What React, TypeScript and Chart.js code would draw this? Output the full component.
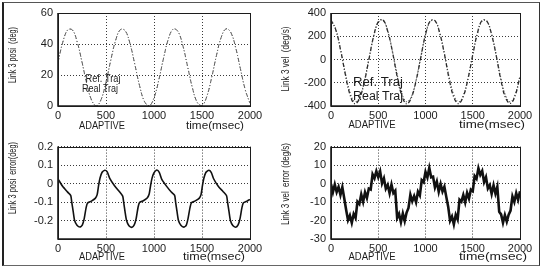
import React, { useEffect, useRef } from 'react';
import { Chart, registerables } from 'chart.js';

Chart.register(...registerables);

// ---------- data ----------
const timeTicks = [0, 500, 1000, 1500, 2000];
const posTicks = [0, 20, 40, 60];
const velTicks = [-400, -200, 0, 200, 400];
const posErrTicks = [-0.3, -0.2, -0.1, 0, 0.1, 0.2];
const velErrTicks = [-30, -20, -10, 0, 10, 20];

// trajectory samples every 50 ms (0..2000)
const trajTimes = Array.from({ length: 41 }, (_, i) => i * 50);

const refPos = [28.2, 41.2, 49.0, 49.0, 41.2, 28.2, 14.2, 3.7, 0.0, 4.4, 15.5, 29.6, 42.3, 49.3, 48.5, 40.1, 26.8, 12.9, 2.9, 0.1, 5.3, 16.9, 31.0, 43.3, 49.6, 48.0, 38.9, 25.3, 11.7, 2.3, 0.3, 6.2, 18.2, 32.4, 44.3, 49.8, 47.4, 37.7, 23.9, 10.5, 1.7];
const realPos = [28.2, 41.2, 49.0, 49.1, 41.4, 28.4, 14.4, 3.8, 0.1, 4.3, 15.4, 29.6, 42.3, 49.3, 48.6, 40.3, 27.0, 13.1, 3.0, 0.2, 5.2, 16.8, 31.0, 43.3, 49.6, 48.1, 39.1, 25.5, 11.8, 2.4, 0.3, 6.1, 18.1, 32.4, 44.3, 49.8, 47.5, 37.9, 24.1, 10.6, 1.8];

const refVel = [342, 260, 91, -111, -280, -362, -330, -195, 1, 192, 318, 339, 246, 71, -130, -293, -364, -321, -177, 21, 209, 326, 334, 232, 51, -149, -305, -365, -310, -159, 41, 224, 332, 329, 216, 31, -168, -316, -365, -299, -140];
const realVel = [340, 257, 88, -121, -299, -380, -339, -203, -4, 196, 324, 340, 244, 68, -146, -312, -382, -329, -185, 18, 214, 332, 335, 229, 48, -166, -325, -379, -318, -166, 40, 229, 337, 329, 213, 27, -187, -335, -377, -307, -146];

// position error (deg), irregular sample times (ms)
const posErrTimes = [
  0, 48, 98, 133, 143, 158, 173, 198, 228, 253, 273, 293, 308, 348, 388, 408, 423, 438, 458, 489,
  514, 539, 589, 639, 674, 684, 699, 714, 739, 769, 794, 814, 834, 849, 889, 929, 949, 964, 979, 999, 1030,
  1055, 1080, 1130, 1180, 1215, 1225, 1240, 1255, 1280, 1310, 1335, 1355, 1375, 1390, 1430, 1470, 1490, 1505, 1520, 1540, 1571,
  1596, 1621, 1671, 1721, 1756, 1766, 1781, 1796, 1821, 1851, 1876, 1896, 1916, 1931, 1971, 2000,
];
const posErrValues = [
  0.025, -0.015, -0.045, -0.065, -0.1, -0.15, -0.2, -0.225, -0.235, -0.225, -0.19, -0.13, -0.105, -0.095, -0.08, -0.06, -0.01, 0.03, 0.06, 0.072,
  0.062, 0.028, -0.012, -0.043, -0.068, -0.1, -0.155, -0.2, -0.228, -0.237, -0.224, -0.19, -0.128, -0.103, -0.093, -0.078, -0.058, -0.012, 0.028, 0.058, 0.073,
  0.06, 0.024, -0.014, -0.046, -0.064, -0.1, -0.152, -0.2, -0.226, -0.236, -0.226, -0.188, -0.13, -0.104, -0.094, -0.08, -0.06, -0.01, 0.03, 0.06, 0.072,
  0.061, 0.026, -0.016, -0.044, -0.066, -0.1, -0.15, -0.2, -0.227, -0.236, -0.224, -0.19, -0.13, -0.104, -0.094, -0.086,
];

// velocity error (deg/s), samples every 20 ms (0..2000)
const velErrTimes = Array.from({ length: 101 }, (_, i) => i * 20);
const velErrValues = [
  -0.2, -4.7, -0.5, -4.6, -1.8, -6.1, -1.9, -7.9, -14.2, -19.8,
  -17.2, -21.2, -16.5, -18.6, -9.8, -11.1, -5.9, -9.9, -4.7, -7.8,
  -2.7, -3.2, 5, 2.9, 6.7, 3.4, 6.6, 0.1, 2.8, -2.8,
  -0.7, -5.2, -0.5, -5.1, -3.8, -18.6, -16.4, -20.9, -16.2, -20.3,
  -15.7, -13.2, -6, -9.6, -6.8, -10.1, -4.4, -6.4, 1.8, 0.7,
  6.3, 3.3, 8.5, 3.4, 3.7, -2.1, 1.1, -4.4, -0.2, -4.3,
  -1.7, -7.2, -12.5, -20.1, -17.8, -22.1, -16.9, -19.4, -8.7, -9.8,
  -6.2, -10.2, -5, -8.1, -3.3, -4.1, 4.1, 2.6, 8.3, 4.7,
  6.8, 0.8, 3.5, -2.6, -0.8, -5.6, -0.9, -5.4, -1.7, -15.3,
  -16.7, -21.2, -17, -20.6, -16.8, -14.6, -6.9, -9.9, -5.2, -8.8,
  -4.2,
];

// ---------- drawing helpers ----------
const FONT = '"Liberation Sans", Arial, Helvetica, sans-serif';
const INK = '#1c1c1c';

const pts = (xs: number[], ys: number[]) => xs.map((x, i) => ({ x, y: ys[i] }));

function drawFitted(ctx: CanvasRenderingContext2D, text: string, cx: number, cy: number, size: number, targetW: number, rotate = false) {
  ctx.save();
  ctx.font = `${size}px ${FONT}`;
  ctx.fillStyle = INK;
  ctx.textAlign = 'center';
  ctx.textBaseline = 'middle';
  const w = ctx.measureText(text).width || 1;
  ctx.translate(cx, cy);
  if (rotate) ctx.rotate(-Math.PI / 2);
  ctx.scale(targetW / w, 1);
  ctx.fillText(text, 0, 0);
  ctx.restore();
}

type Txt = [string, number, number, number, number];
type Panel = {
  x: number; y: number; w: number; h: number;
  area: { l: number; t: number; r: number; b: number };
  yMin: number; yMax: number; yTicks: number[];
  hideY?: number[];
  datasets: any[];
  texts: Txt[];
  yTitle: Txt;
};

const trajStyle = (color: string, dash: number[], width = 1) => ({
  borderColor: color, borderWidth: width, borderDash: dash, pointRadius: 0, tension: 0.4, fill: false,
});

const panels: Panel[] = [
  {
    x: 0, y: 0, w: 276, h: 135, area: { l: 58, t: 13, r: 250, b: 106 },
    yMin: 0, yMax: 60, yTicks: posTicks,
    datasets: [
      { label: 'Ref. Traj', data: pts(trajTimes, refPos), ...trajStyle('#6a6a6a', [1, 2]) },
      { label: 'Real Traj', data: pts(trajTimes, realPos), ...trajStyle('#5a5a5a', [4, 2, 1, 2]) },
    ],
    texts: [['ADAPTIVE', 102, 126, 10, 46], ['time(msec)', 215, 126, 10, 58], ['Ref. Traj', 103, 79, 10, 35], ['Real Traj', 100, 89, 10, 36]],
    yTitle: ['Link 3 posi  (deg)', 13, 55, 10, 56],
  },
  {
    x: 276, y: 0, w: 277, h: 135, area: { l: 55, t: 13, r: 244, b: 106 },
    yMin: -400, yMax: 400, yTicks: velTicks,
    datasets: [
      { label: 'Ref. Traj', data: pts(trajTimes, refVel), ...trajStyle('#444', [1, 2], 1.1) },
      { label: 'Real Traj', data: pts(trajTimes, realVel), ...trajStyle('#262626', [4, 2, 1, 2], 1.3) },
    ],
    texts: [['ADAPTIVE', 96, 125, 10, 47], ['time(msec)', 216, 125, 10, 66], ['Ref. Traj', 102, 83, 12, 50], ['Real Traj', 102, 97, 12, 50]],
    yTitle: ['Link 3 vel  (deg/s)', 10, 59, 10, 65],
  },
  {
    x: 0, y: 135, w: 276, h: 135, area: { l: 58, t: 11, r: 250, b: 104 },
    yMin: -0.3, yMax: 0.2, yTicks: posErrTicks, hideY: [-0.3],
    datasets: [
      { label: 'error', data: pts(posErrTimes, posErrValues), borderColor: '#111', borderWidth: 1.6, pointRadius: 0, tension: 0.2, fill: false },
    ],
    texts: [['ADAPTIVE', 102, 122, 10, 46], ['time(msec)', 214, 122, 10, 62]],
    yTitle: ['Link 3 posi  error(deg)', 13, 43, 10, 72],
  },
  {
    x: 276, y: 135, w: 277, h: 135, area: { l: 55, t: 11, r: 244, b: 104 },
    yMin: -30, yMax: 20, yTicks: velErrTicks,
    datasets: [
      { label: 'error', data: pts(velErrTimes, velErrValues), borderColor: '#111', borderWidth: 2.6, pointRadius: 0, tension: 0, fill: false },
    ],
    texts: [['ADAPTIVE', 96, 122, 10, 47], ['time(msec)', 217, 122, 10, 68]],
    yTitle: ['Link 3 vel  error (deg/s)', 10, 49, 10, 82],
  },
];

function makeChart(canvas: HTMLCanvasElement, p: Panel) {
  const decor = {
    id: 'decor',
    afterDraw(chart: any) {
      const { ctx, chartArea: a } = chart;
      ctx.save();
      ctx.setLineDash([]);
      ctx.strokeStyle = INK;
      ctx.lineWidth = 1;
      ctx.strokeRect(Math.round(a.left) + 0.5, Math.round(a.top) + 0.5, Math.round(a.right - a.left), Math.round(a.bottom - a.top));
      ctx.lineWidth = 1.6;
      ctx.beginPath();
      ctx.moveTo(a.left, a.top);
      ctx.lineTo(a.left, a.bottom);
      ctx.lineTo(a.right, a.bottom);
      ctx.stroke();
      ctx.restore();
      p.texts.forEach(([t, cx, cy, s, w]) => drawFitted(ctx, t, cx, cy, s, w));
      const [yt, yx, yy, ys, yl] = p.yTitle;
      drawFitted(ctx, yt, yx, yy, ys, yl, true);
    },
  };

  const tickFont = { family: FONT, size: 11 };
  return new Chart(canvas, {
    type: 'line',
    data: { datasets: p.datasets },
    options: {
      animation: false,
      responsive: false,
      maintainAspectRatio: false,
      events: [],
      layout: { padding: { left: 0, top: p.area.t, right: p.w - p.area.r, bottom: 0 } },
      plugins: { legend: { display: false }, tooltip: { enabled: false } },
      scales: {
        x: {
          type: 'linear', min: 0, max: 2000,
          afterBuildTicks: (s: any) => { s.ticks = timeTicks.map((v) => ({ value: v })); },
          afterFit: (s: any) => { s.height = p.h - p.area.b; },
          grid: { color: '#3a3a3a', lineWidth: 1, drawTicks: false },
          border: { display: false, dash: [1, 2] },
          ticks: { padding: 3, font: tickFont, color: INK, maxRotation: 0, autoSkip: false, callback: (v: any) => String(v) },
        },
        y: {
          type: 'linear', min: p.yMin, max: p.yMax,
          afterBuildTicks: (s: any) => { s.ticks = p.yTicks.map((v) => ({ value: v })); },
          afterFit: (s: any) => { s.width = p.area.l; },
          grid: { color: '#3a3a3a', lineWidth: 1, drawTicks: false },
          border: { display: false, dash: [1, 2] },
          ticks: {
            padding: 5, font: tickFont, color: INK, autoSkip: false,
            callback: (v: any) => (p.hideY && p.hideY.some((h) => Math.abs(h - Number(v)) < 1e-9) ? '' : String(Math.round(Number(v) * 1000) / 1000)),
          },
        },
      },
    } as any,
    plugins: [decor],
  });
}

function PanelCanvas({ p }: { p: Panel }) {
  const ref = useRef<HTMLCanvasElement | null>(null);
  useEffect(() => {
    if (!ref.current) return;
    const c = makeChart(ref.current, p);
    return () => c.destroy();
  }, [p]);
  return (
    <canvas
      ref={ref}
      width={p.w}
      height={p.h}
      style={{ position: 'absolute', left: p.x, top: p.y, width: p.w, height: p.h, display: 'block' }}
    />
  );
}

export default function App() {
  return (
    <div style={{ position: 'fixed', left: 0, top: 0, width: 553, height: 270, background: '#fff', overflow: 'hidden' }}>
      {panels.map((p, i) => (
        <PanelCanvas key={i} p={p} />
      ))}
      <div
        style={{
          position: 'absolute', left: 2, top: 2, width: 535, height: 262,
          borderLeft: '2px solid #222', borderTop: '1px solid #555', borderRight: '1px solid #333', borderBottom: '1px solid #666',
          pointerEvents: 'none',
        }}
      />
    </div>
  );
}
